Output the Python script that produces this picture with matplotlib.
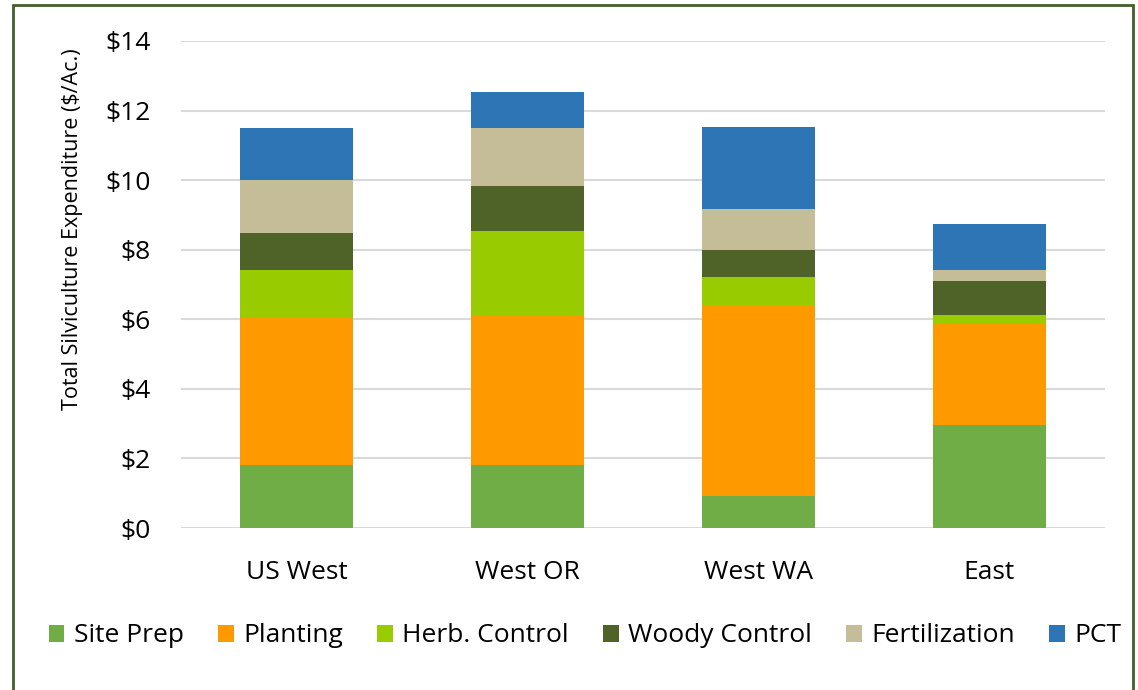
import numpy as np
import matplotlib.pyplot as plt
from matplotlib.patches import Rectangle

plt.rcParams['font.family'] = ['Open Sans', 'DejaVu Sans']

regions = ['US West', 'West OR', 'West WA', 'East']
series = ['Site Prep', 'Planting', 'Herb. Control', 'Woody Control', 'Fertilization', 'PCT']
colors = ['#70ad47', '#ff9900', '#99cc00', '#4f6228', '#c4bd97', '#2e75b6']

site_prep = [1.80, 1.80, 0.93, 2.96]
planting = [4.23, 4.30, 5.47, 2.90]
herb_control = [1.40, 2.44, 0.82, 0.25]
woody_control = [1.05, 1.30, 0.76, 1.00]
fertilization = [1.53, 1.65, 1.20, 0.32]
pct = [1.48, 1.04, 2.36, 1.30]

values = [site_prep, planting, herb_control, woody_control, fertilization, pct]

fig = plt.figure(figsize=(11.38, 6.90), dpi=100)
ax = fig.add_axes([181/1138, 1 - 528/690, 924/1138, 487/690])

x = np.arange(len(regions))
bottom = np.zeros(len(regions))
for name, vals, col in zip(series, values, colors):
    ax.bar(x, vals, width=0.485, bottom=bottom, color=col, label=name, zorder=3)
    bottom += np.array(vals)

ax.set_xlim(-0.5, 3.5)
ax.set_ylim(0, 14)
ax.set_yticks(np.arange(0, 15, 2))
ax.set_yticklabels(['$%d' % v for v in range(0, 15, 2)])
ax.set_xticks(x)
ax.set_xticklabels(regions)
ax.tick_params(axis='y', length=0, pad=22, labelsize=19, labelcolor='#000000')
ax.tick_params(axis='x', length=0, pad=23, labelsize=19)
ax.grid(axis='y', color='#d9d9d9', linewidth=1.5, zorder=0)
for s in ax.spines.values():
    s.set_visible(False)

fig.text(73/1138, 1 - 229/690, 'Total Silviculture Expenditure ($/Ac.)',
         rotation=90, ha='center', va='center', fontsize=15.5)

fig.legend(loc='center', bbox_to_anchor=(585/1138, 1 - 636/690), ncol=6,
           frameon=False, fontsize=19, handlelength=0.6, handleheight=0.6,
           handletextpad=0.35, columnspacing=1.3)

fig.patches.append(Rectangle((13/1138, -0.1), 1120/1138, 1.1 - 5/690,
                             transform=fig.transFigure, fill=False,
                             edgecolor='#41602a', linewidth=2))

plt.savefig('out.png', dpi=100)
